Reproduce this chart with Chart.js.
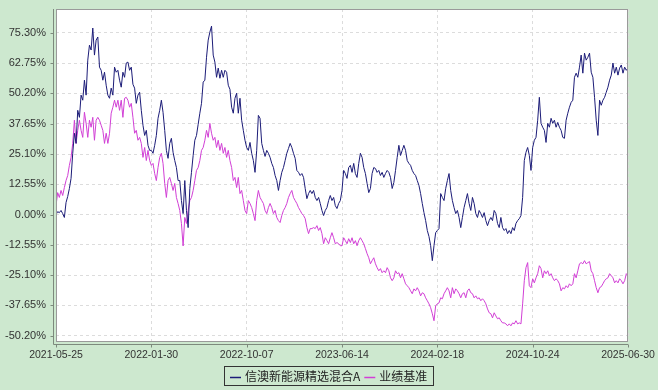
<!DOCTYPE html>
<html><head><meta charset="utf-8">
<script src="https://cdn.jsdelivr.net/npm/chart.js@4"></script>
<style>html,body{margin:0;padding:0;background:#cde8cf;}#wrap{width:658px;height:390px;}</style>
</head><body><div id="wrap"><canvas id="c" width="658" height="390"></canvas></div>
<script>
const seriesNames = ['信澳新能源精选混合A', '业绩基准'];
const dateTicks = ['2021-05-25','2022-01-30','2022-10-07','2023-06-14','2024-02-18','2024-10-24','2025-06-30'];
const yTickValues = [-50.2,-37.65,-25.1,-12.55,0,12.55,25.1,37.65,50.2,62.75,75.3];
const fund = [
0.0,1.2,0.8,1.7,0.4,-1.2,5.0,7.5,10.8,15.0,
25.4,33.7,29.5,43.2,40.3,49.5,47.4,55.7,49.5,64.0,
70.2,68.2,77.3,66.1,72.3,73.6,61.1,59.8,55.7,59.0,
53.6,49.5,48.2,52.4,49.5,61.1,59.0,59.8,55.7,52.8,
59.0,56.9,62.8,63.2,59.8,61.1,54.0,52.4,46.1,49.5,
50.7,43.2,37.0,32.8,34.9,28.7,26.6,26.6,25.4,28.7,
32.8,39.9,43.2,47.4,42.4,34.9,26.6,23.3,29.5,31.6,
25.8,22.4,19.5,14.1,14.1,5.8,0.4,14.1,1.7,-5.4,
10.8,17.5,24.5,30.8,32.8,37.4,42.0,46.1,54.9,55.7,
65.2,72.3,75.6,78.1,66.1,63.2,56.9,60.7,56.5,59.8,
56.9,59.8,59.0,53.6,51.9,44.5,42.0,48.2,50.3,42.0,
48.2,39.1,34.9,30.8,27.8,26.6,29.9,25.4,22.4,17.5,
26.6,41.1,39.9,29.5,26.6,24.1,26.6,25.4,23.7,21.2,
19.5,16.2,14.1,10.0,14.1,17.5,19.5,22.4,25.4,27.4,
29.5,27.8,25.4,23.3,18.3,17.5,16.2,17.0,15.4,10.8,
6.6,8.7,10.0,8.7,10.0,7.1,5.8,7.1,4.6,1.7,
-0.4,1.7,2.9,5.8,7.9,5.8,7.1,3.7,2.5,4.6,
5.8,10.0,18.3,17.0,15.0,19.5,20.4,17.5,21.2,17.0,
15.4,21.2,25.4,23.7,19.5,17.0,12.9,9.1,10.8,17.0,
19.5,19.1,17.5,18.3,16.2,17.5,15.4,17.0,18.3,17.5,
15.4,10.8,13.3,18.3,23.7,28.7,24.5,26.6,28.7,26.6,
22.4,21.2,20.4,18.3,17.0,16.2,14.1,12.1,8.7,4.6,
0.8,-2.5,-6.6,-9.1,-12.9,-19.1,-12.9,-7.5,-6.6,-5.8,
8.7,7.1,5.8,10.8,14.1,17.0,10.0,5.8,2.9,0.4,
1.7,-1.2,-5.4,-1.2,2.9,5.8,8.7,4.6,1.7,7.1,
4.6,0.4,-1.2,1.7,0.4,-1.2,0.8,-2.5,-4.6,-2.5,
-1.2,-2.5,1.7,0.4,-3.7,-5.4,-1.2,-5.4,-6.6,-5.8,
-7.9,-6.6,-7.9,-5.4,-6.6,-3.7,-2.5,-1.7,-0.4,7.1,
22.4,25.8,27.8,24.5,18.3,27.8,30.8,32.0,39.1,48.6,
37.8,36.2,34.9,29.9,37.8,36.2,39.9,37.8,39.1,36.2,
38.2,36.2,34.9,32.0,31.6,39.1,42.0,44.5,46.5,47.4,
56.9,58.6,56.9,61.1,66.1,58.6,66.9,64.0,65.2,66.9,
59.0,56.9,48.6,39.1,32.8,47.4,45.3,47.4,48.6,50.7,
52.8,55.7,57.8,62.8,58.6,61.1,57.8,60.7,62.0,58.6,
61.1,59.8,60.7];
const bench = [
3.7,9.1,7.1,10.0,7.9,11.2,14.1,16.2,20.4,23.7,
29.5,39.1,29.5,34.9,39.1,34.9,32.0,42.4,37.8,32.0,
39.1,36.2,40.3,30.8,39.1,40.3,39.1,37.0,34.9,29.5,
33.7,29.5,33.7,42.0,44.5,47.4,44.5,47.4,43.2,47.4,
40.3,48.2,48.6,47.4,44.5,46.1,40.3,33.7,34.9,30.8,
32.0,29.5,23.7,27.8,22.4,26.6,22.4,20.4,21.2,17.0,
14.1,19.5,23.7,25.4,21.2,12.9,7.1,14.1,15.4,12.9,
10.0,12.9,7.1,4.6,1.7,-3.7,-13.0,-1.2,-3.7,1.7,
5.8,7.1,10.0,14.1,18.3,19.5,22.4,26.6,27.8,30.8,
34.9,32.0,37.8,33.7,30.8,32.0,27.8,30.8,26.6,29.5,
25.4,27.8,23.7,26.6,22.4,19.5,14.1,15.4,11.2,15.4,
8.7,10.0,5.8,1.7,0.4,5.8,4.6,2.9,0.4,-2.5,
5.8,10.0,7.1,5.8,4.6,1.7,0.4,2.9,4.6,2.9,
0.4,1.7,-1.2,-2.5,-3.3,-0.4,1.7,2.9,4.6,7.1,
8.7,10.0,7.1,5.8,4.6,2.9,1.7,0.4,-0.4,-1.7,
-5.4,-7.9,-5.8,-5.8,-5.4,-5.8,-4.6,-6.6,-5.4,-7.9,
-12.1,-9.6,-10.8,-12.1,-9.6,-7.5,-9.6,-12.1,-11.6,-12.1,
-12.9,-12.9,-9.6,-10.8,-12.1,-10.0,-11.6,-9.6,-12.1,-10.8,
-12.9,-10.8,-9.6,-10.8,-12.1,-14.1,-16.2,-17.9,-20.4,-19.1,
-17.9,-20.4,-22.0,-23.3,-22.4,-24.1,-23.3,-24.1,-22.0,-23.3,
-26.2,-27.4,-26.2,-23.3,-24.5,-24.1,-26.2,-24.5,-26.6,-28.7,
-29.5,-30.3,-31.6,-32.8,-30.8,-31.6,-30.3,-31.6,-33.7,-32.4,
-32.8,-34.5,-35.7,-37.0,-38.6,-41.1,-44.0,-37.8,-37.0,-36.6,
-34.5,-34.9,-32.8,-31.6,-30.3,-31.6,-34.5,-30.3,-32.8,-30.8,
-31.6,-32.8,-34.5,-32.8,-32.4,-34.5,-31.6,-30.8,-32.4,-32.8,
-34.5,-33.7,-34.9,-34.5,-35.7,-34.9,-35.7,-37.0,-39.1,-40.7,
-41.1,-42.8,-40.7,-42.0,-43.2,-42.8,-44.0,-44.9,-44.9,-45.3,
-46.1,-45.3,-46.1,-44.9,-45.3,-44.0,-45.3,-44.9,-45.3,-37.0,
-27.4,-22.0,-19.9,-29.5,-30.3,-26.6,-28.3,-26.2,-24.5,-21.2,
-22.4,-26.2,-23.3,-24.5,-23.3,-25.3,-24.5,-26.2,-27.4,-26.6,
-27.4,-28.7,-31.6,-30.3,-30.8,-29.5,-30.3,-28.7,-29.5,-28.7,
-24.5,-26.2,-23.3,-20.4,-19.9,-20.4,-19.1,-20.4,-19.9,-19.5,
-23.3,-24.5,-27.4,-30.3,-32.4,-30.3,-29.9,-28.7,-27.4,-26.6,
-26.2,-24.5,-25.3,-26.2,-28.3,-27.4,-28.3,-26.6,-27.4,-28.7,
-27.4,-24.5,-25.3];

const colors = ['#1c1c78', '#d23fd6'];
const BG = '#cde8cf';
const lastIdx = fund.length - 1;
const xTickPos = dateTicks.map((d, i) => i * lastIdx / (dateTicks.length - 1));

const decor = {
  id: 'decor',
  beforeDraw(chart) {
    const {ctx, chartArea: a} = chart;
    ctx.save();
    ctx.fillStyle = BG;
    ctx.fillRect(0, 0, chart.width, chart.height);
    ctx.fillStyle = '#ffffff';
    ctx.fillRect(a.left, a.top, a.right - a.left, a.bottom - a.top);
    ctx.restore();
  },
  afterDraw(chart) {
    const {ctx, chartArea: a} = chart;
    const xs = chart.scales.x, ys = chart.scales.y;
    ctx.save();
    ctx.lineWidth = 1;
    ctx.strokeStyle = '#9a9a9a';
    ctx.strokeRect(Math.round(a.left) + 0.5, Math.round(a.top) + 0.5, Math.round(a.right - a.left) - 1, Math.round(a.bottom - a.top));
    ctx.strokeStyle = '#7d8a7d';
    const axX = Math.round(a.left) - 3 + 0.5;
    const axY = Math.round(a.bottom) + 3 + 0.5;
    ctx.beginPath();
    ctx.moveTo(axX, Math.round(a.top));
    ctx.lineTo(axX, axY);
    ctx.lineTo(Math.round(a.right), axY);
    ctx.stroke();
    ctx.beginPath();
    yTickValues.forEach(v => {
      const y = Math.round(ys.getPixelForValue(v)) + 0.5;
      ctx.moveTo(axX - 3, y); ctx.lineTo(axX, y);
    });
    xTickPos.forEach(v => {
      const x = Math.round(xs.getPixelForValue(v)) + 0.5;
      ctx.moveTo(x, axY); ctx.lineTo(x, axY + 3);
    });
    ctx.stroke();
    ctx.font = '12px "Noto Sans CJK SC", sans-serif';
    ctx.textBaseline = 'middle';
    const lineW = 11, gapA = 4, gapB = 4, pad = 6;
    const widths = seriesNames.map(n => ctx.measureText(n).width);
    const total = pad + widths.reduce((s, w) => s + lineW + gapA + w, 0) + gapB + pad;
    const bx = Math.round(329 - total / 2), by = 366, bh = 19;
    ctx.strokeStyle = '#333333';
    ctx.strokeRect(bx + 0.5, by + 0.5, Math.round(total), bh);
    let cx = bx + pad;
    const cy = by + bh / 2 + 1;
    seriesNames.forEach((n, i) => {
      ctx.strokeStyle = colors[i];
      ctx.lineWidth = 1.5;
      ctx.beginPath();
      ctx.moveTo(cx, Math.round(cy) + 0.5); ctx.lineTo(cx + lineW, Math.round(cy) + 0.5);
      ctx.stroke();
      cx += lineW + gapA;
      ctx.fillStyle = '#222222';
      ctx.fillText(n, cx, cy);
      cx += widths[i] + gapB;
    });
    ctx.restore();
  }
};

new Chart(document.getElementById('c'), {
  type: 'line',
  data: {
    datasets: [
      { label: seriesNames[0], data: fund.map((v, i) => ({x: i, y: v})), borderColor: colors[0], borderWidth: 1, pointRadius: 0, tension: 0, fill: false },
      { label: seriesNames[1], data: bench.map((v, i) => ({x: i, y: v})), borderColor: colors[1], borderWidth: 1, pointRadius: 0, tension: 0, fill: false }
    ]
  },
  options: {
    responsive: false,
    animation: false,
    devicePixelRatio: 1,
    layout: { padding: { top: 9, right: 30, left: 0, bottom: 0 } },
    plugins: { legend: { display: false }, tooltip: { enabled: false } },
    scales: {
      x: {
        type: 'linear', min: 0, max: lastIdx,
        afterBuildTicks: s => { s.ticks = xTickPos.map(v => ({value: v})); },
        afterFit: s => { s.height = 49; s.paddingLeft = 0; s.paddingRight = 0; },
        ticks: {
          autoSkip: false, maxRotation: 0, padding: 8, color: '#333333',
          font: { family: '"Liberation Sans", Arial, sans-serif', size: 10.5 },
          callback: (v) => { const i = xTickPos.findIndex(p => Math.abs(p - v) < 0.01); return i >= 0 ? dateTicks[i] : ''; }
        },
        grid: { color: '#dcdcdc', drawTicks: false },
        border: { display: false, dash: [3, 3] }
      },
      y: {
        min: -52.4, max: 85.2,
        afterBuildTicks: s => { s.ticks = yTickValues.map(v => ({value: v})); },
        afterFit: s => { s.width = 56; s.paddingTop = 0; s.paddingBottom = 0; },
        ticks: {
          padding: 10, color: '#333333',
          font: { family: '"Liberation Sans", Arial, sans-serif', size: 11 },
          callback: v => v.toFixed(2) + '%'
        },
        grid: { color: '#dcdcdc', drawTicks: false },
        border: { display: false, dash: [3, 3] }
      }
    }
  },
  plugins: [decor]
});
</script>
</body></html>
